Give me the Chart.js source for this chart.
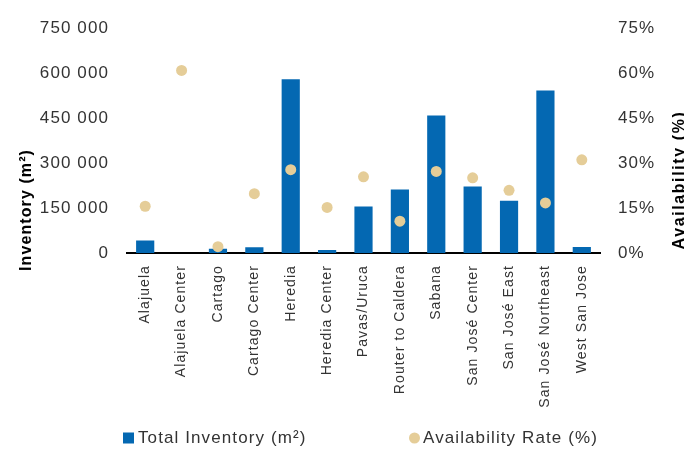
<!DOCTYPE html>
<html>
<head>
<meta charset="utf-8">
<script src="https://cdn.jsdelivr.net/npm/chart.js@4/dist/chart.umd.min.js"></script>
<style>
  html, body { margin: 0; padding: 0; background: #fff; }
  #wrap { width: 684px; height: 449px; }
</style>
</head>
<body>
<div id="wrap"><canvas id="c" width="684" height="449"></canvas></div>
<script>
const categories = ["Alajuela", "Alajuela Center", "Cartago", "Cartago Center", "Heredia", "Heredia Center", "Pavas/Uruca", "Router to Caldera", "Sabana", "San José Center", "San José East", "San José Northeast", "West San Jose"];
const totalInventory = [42000, 0, 14000, 19000, 580000, 10000, 155000, 212000, 459000, 222000, 174000, 542000, 20000];
const availabilityRate = [15.6, 60.9, 2.1, 19.8, 27.8, 15.2, 25.4, 10.6, 27.2, 25.1, 20.9, 16.7, 31.1];
const inventoryTicks = [0, 150000, 300000, 450000, 600000, 750000];
const availabilityTicks = [0, 15, 30, 45, 60, 75];
const seriesNames = ["Total Inventory (m²)", "Availability Rate (%)"];
const axisTitles = ["Inventory (m²)", "Availability (%)"];

const BAR_COLOR = '#0468b2';
const DOT_COLOR = '#e5cd98';
const TEXT_COLOR = '#333333';
const FONT = '"Liberation Sans", Arial, sans-serif';

function fmtThousands(v) {
  return String(Math.round(v)).replace(/\B(?=(\d{3})+(?!\d))/g, ' ');
}

const spacingPlugin = {
  id: 'spacing',
  beforeUpdate(chart) { chart.ctx.letterSpacing = '1.1px'; },
  beforeLayout(chart) { chart.ctx.letterSpacing = '1.1px'; },
  beforeDraw(chart) { chart.ctx.letterSpacing = '1.1px'; }
};

const extrasPlugin = {
  id: 'extras',
  afterDraw(chart) {
    const ctx = chart.ctx;
    // axis titles
    ctx.save();
    ctx.fillStyle = '#000';
    ctx.font = 'bold 16px ' + FONT;
    ctx.letterSpacing = '1.1px';
    ctx.textAlign = 'center';
    ctx.textBaseline = 'alphabetic';
    ctx.translate(31, 210);
    ctx.rotate(-Math.PI / 2);
    ctx.fillText(axisTitles[0], 0, 0);
    ctx.restore();

    ctx.save();
    ctx.fillStyle = '#000';
    ctx.font = 'bold 16px ' + FONT;
    ctx.letterSpacing = '1.6px';
    ctx.textAlign = 'center';
    ctx.textBaseline = 'alphabetic';
    ctx.translate(684, 180);
    ctx.rotate(-Math.PI / 2);
    ctx.fillText(axisTitles[1], 0, 0);
    ctx.restore();

    // legend
    ctx.save();
    const ly = 438;
    ctx.fillStyle = chart.data.datasets[0].backgroundColor;
    ctx.fillRect(123, ly - 5.5, 11, 11);
    ctx.fillStyle = chart.data.datasets[1].backgroundColor;
    ctx.beginPath();
    ctx.arc(414.5, ly, 5.5, 0, Math.PI * 2);
    ctx.fill();
    ctx.fillStyle = TEXT_COLOR;
    ctx.font = '17px ' + FONT;
    ctx.letterSpacing = '1.1px';
    ctx.textAlign = 'left';
    ctx.textBaseline = 'middle';
    ctx.fillText(chart.data.datasets[0].label, 138, ly);
    ctx.fillText(chart.data.datasets[1].label, 423, ly);
    ctx.restore();
  }
};

new Chart(document.getElementById('c'), {
  data: {
    labels: categories,
    datasets: [
      {
        type: 'bar',
        label: seriesNames[0],
        data: totalInventory,
        backgroundColor: BAR_COLOR,
        borderWidth: 0,
        yAxisID: 'y',
        order: 2,
        categoryPercentage: 1.0,
        barPercentage: 0.5
      },
      {
        type: 'line',
        label: seriesNames[1],
        data: availabilityRate,
        backgroundColor: DOT_COLOR,
        borderColor: DOT_COLOR,
        showLine: false,
        pointRadius: 5.5,
        pointBorderWidth: 0,
        pointHoverRadius: 5.5,
        yAxisID: 'y1',
        order: 1
      }
    ]
  },
  options: {
    responsive: false,
    devicePixelRatio: 1,
    animation: false,
    layout: { padding: { top: 20, bottom: 30, left: 0, right: 0 } },
    plugins: {
      legend: { display: false },
      tooltip: { enabled: false },
      title: { display: false }
    },
    scales: {
      x: {
        type: 'category',
        offset: true,
        grid: { display: false, drawTicks: false },
        border: { display: true, color: '#000', width: 2 },
        ticks: {
          autoSkip: false,
          minRotation: 90,
          maxRotation: 90,
          padding: 12,
          color: TEXT_COLOR,
          font: { family: FONT, size: 14 }
        },
        afterFit(scale) { scale.height = 166; }
      },
      y: {
        position: 'left',
        min: inventoryTicks[0],
        max: inventoryTicks[inventoryTicks.length - 1],
        afterBuildTicks(scale) { scale.ticks = inventoryTicks.map(v => ({ value: v })); },
        grid: { display: false, drawTicks: false },
        border: { display: false },
        ticks: {
          padding: 18,
          color: TEXT_COLOR,
          font: { family: FONT, size: 17 },
          callback: (v) => fmtThousands(v)
        },
        afterFit(scale) { scale.width = 127; }
      },
      y1: {
        position: 'right',
        min: availabilityTicks[0],
        max: availabilityTicks[availabilityTicks.length - 1],
        afterBuildTicks(scale) { scale.ticks = availabilityTicks.map(v => ({ value: v })); },
        grid: { display: false, drawTicks: false },
        border: { display: false },
        ticks: {
          padding: 18,
          color: TEXT_COLOR,
          font: { family: FONT, size: 17 },
          callback: (v) => v + '%'
        },
        afterFit(scale) { scale.width = 84; }
      }
    }
  },
  plugins: [spacingPlugin, extrasPlugin]
});
</script>
</body>
</html>
